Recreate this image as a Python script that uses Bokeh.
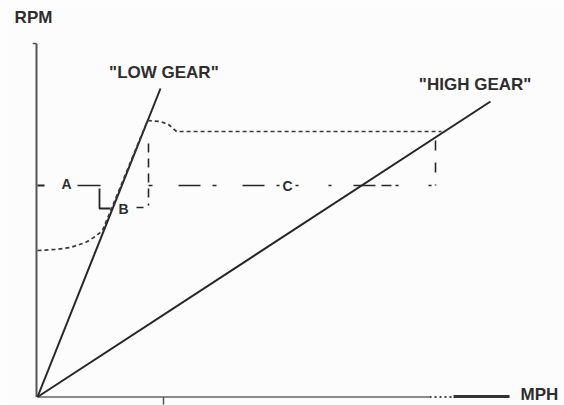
from bokeh.plotting import figure
from bokeh.models import Range1d
from bokeh.embed import file_html
from bokeh.resources import INLINE
from bokeh.core.properties import value

# ---- data (MPH vs RPM, arbitrary units) ----
low_mph = [0, 30.75]
low_rpm = [0, 6170]
high_mph = [0, 113.25]
high_rpm = [0, 5910]

# engine speed while accelerating (dotted curve)
curve_mph = [0, 4.5, 8.25, 12, 14.5, 16.25, 27.5, 30.75, 32.75, 34.75, 101]
curve_rpm = [2930, 2950, 2990, 3090, 3210, 3330, 5530, 5510, 5450, 5310, 5310]

# reference levels / markers
a_rpm = 4230
a_left_mph = [10, 15.75]
c_left_mph = [27.75, 60.5]
c_right_mph = [64.5, 99.5]
shift_low_mph = 27.75
shift_low_rpm = [5070, 3830]
shift_high_mph = 99.5
shift_high_rpm = [5130, 4230]
bracket_mph = [15.5, 15.5, 18.25]
bracket_rpm = [4170, 3770, 3770]
b_dash_mph = [24.75, 26.5]
b_dash_rpm = [3790, 3790]

axis_x_mph = [0, 118]
axis_y_rpm = [0, 7070]

labels_text = ["RPM", '"LOW GEAR"', '"HIGH GEAR"', "MPH"]
labels_mph = [-1.0, 31.6, 109.4, 125.5]
labels_rpm = [7590, 6490, 6250, 50]

letter_text = ["A", "B", "C"]
letter_mph = [7.25, 21.5, 62.5]
letter_rpm = [4270, 3760, 4230]

p = figure(width=564, height=405, output_backend="svg", toolbar_location=None,
           x_range=Range1d(-9.25, 131.75), y_range=Range1d(-170, 7930),
           min_border=0, min_border_left=0, min_border_right=0,
           min_border_top=0, min_border_bottom=0)
p.axis.visible = False
p.grid.visible = False
p.outline_line_color = None
p.background_fill_color = "#fcfcfc"
p.border_fill_color = "#fcfcfc"

ink = "#262626"

# axes drawn as lines
p.line([-0.25, -0.25], axis_y_rpm, line_color="#555555", line_width=2)
p.line([0, 98], [0, 0], line_color="#666666", line_width=1.5)
p.line([98, 104], [0, 0], line_color="#444444", line_width=2, line_dash="2 3")
p.line([104, 118], [10, 10], line_color="#333333", line_width=3)
p.line([-1.2, -0.25], [7070, 7070], line_color="#555555", line_width=1.5)
p.line([31.5, 31.5], [0, -150], line_color="#555555", line_width=1.5)

# gear lines
p.line(low_mph, low_rpm, line_color=ink, line_width=2)
p.line(high_mph, high_rpm, line_color=ink, line_width=2)

# dotted engine curve
p.line(curve_mph, curve_rpm, line_color="#3a3a3a", line_width=1.7, line_dash="4 3")

# A / C reference level
p.line([0, 1.75], [a_rpm, a_rpm], line_color=ink, line_width=2)
p.line(a_left_mph, [a_rpm, a_rpm], line_color=ink, line_width=1.6)
p.line(c_left_mph, [a_rpm, a_rpm], line_color=ink, line_width=1.6, line_dash="4 26 22 12")
p.line(c_right_mph, [a_rpm, a_rpm], line_color=ink, line_width=1.6, line_dash="3 30 3 22 22 6 10 4")

# shift verticals
p.line([shift_low_mph] * 2, shift_low_rpm, line_color=ink, line_width=1.6, line_dash="9 6")
p.line([shift_high_mph] * 2, shift_high_rpm, line_color=ink, line_width=1.6, line_dash="10 12")

# B bracket
p.line(bracket_mph, bracket_rpm, line_color=ink, line_width=1.8)
p.line(b_dash_mph, b_dash_rpm, line_color=ink, line_width=1.6)

# texts
p.text(labels_mph, labels_rpm, text=labels_text, text_align="center", text_baseline="middle",
       text_font=value("Liberation Sans"), text_font_style="bold",
       text_font_size=value("17px"), text_color="#2e2e2e")
p.text(letter_mph, letter_rpm, text=letter_text, text_align="center", text_baseline="middle",
       text_font=value("Liberation Sans"), text_font_style="bold",
       text_font_size=value("14px"), text_color="#2e2e2e")

open("out.html", "w").write(file_html(p, INLINE))
